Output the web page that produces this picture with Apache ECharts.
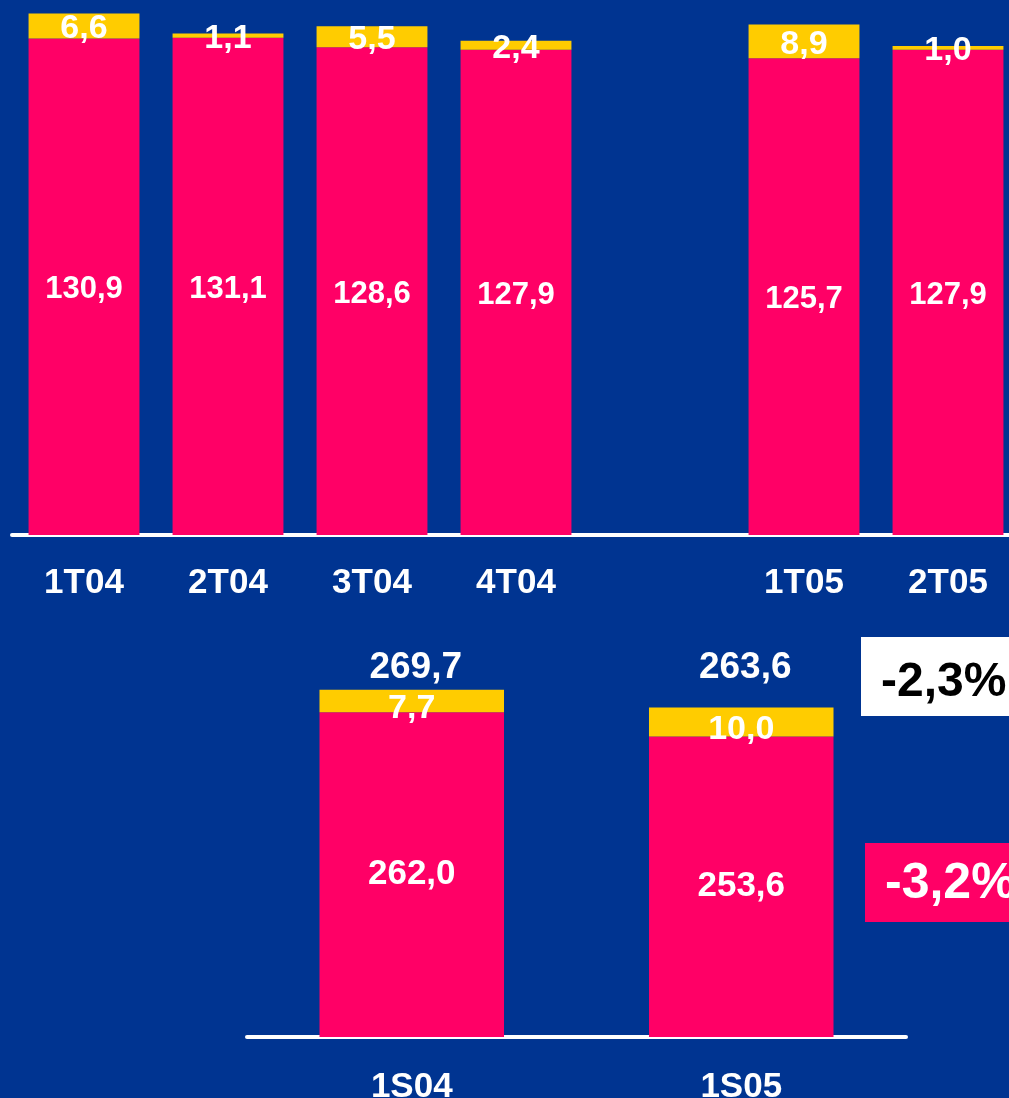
<!DOCTYPE html>
<html>
<head>
<meta charset="utf-8">
<script src="https://cdn.jsdelivr.net/npm/echarts@6/dist/echarts.min.js"></script>
<style>
  html, body { margin: 0; padding: 0; background: #003491; }
  #chart { width: 1009px; height: 1098px; }
</style>
</head>
<body>
<div id="chart"></div>
<script>
// quarterly values (empty slot between 4T04 and 1T05)
const quarters = ['1T04', '2T04', '3T04', '4T04', '', '1T05', '2T05'];
const quarterBase = [130.9, 131.1, 128.6, 127.9, null, 125.7, 127.9];
const quarterExtra = [6.6, 1.1, 5.5, 2.4, null, 8.9, 1.0];

// half-year values
const halves = ['1S04', '1S05'];
const halfBase = [262.0, 253.6];
const halfExtra = [7.7, 10.0];
const halfTotal = [269.7, 263.6];

// change 1S05 vs 1S04
const totalChange = -2.3;
const baseChange = -3.2;

const PINK = '#ff0066';
const YELLOW = '#ffcc00';
const BG = '#003491';
const FONT = '"Liberation Sans", Arial, sans-serif';

function fmt(v) {
  return v.toFixed(1).replace('.', ',');
}

function pct(v) {
  return fmt(v) + '%';
}

const labelStyle = {
  show: true,
  color: '#fff',
  fontWeight: 'bold',
  fontFamily: FONT,
  formatter: (p) => fmt(p.value)
};

const chart = echarts.init(document.getElementById('chart'));

chart.setOption({
  backgroundColor: BG,
  animation: false,
  grid: [
    { left: 12, top: 2, width: 1008, height: 533, outerBoundsMode: 'none' },
    { left: 247, top: 660, width: 659, height: 377, outerBoundsMode: 'none' }
  ],
  xAxis: [
    {
      gridIndex: 0,
      type: 'category',
      data: quarters,
      axisLine: { lineStyle: { color: '#fff', width: 4, cap: 'round' } },
      axisTick: { show: false },
      axisLabel: { color: '#fff', fontSize: 35, fontWeight: 'bold', fontFamily: FONT, margin: 31 }
    },
    {
      gridIndex: 1,
      type: 'category',
      data: halves,
      axisLine: { lineStyle: { color: '#fff', width: 4, cap: 'round' } },
      axisTick: { show: false },
      axisLabel: { color: '#fff', fontSize: 35, fontWeight: 'bold', fontFamily: FONT, margin: 33 }
    }
  ],
  yAxis: [
    { gridIndex: 0, type: 'value', min: 0, max: 140.5, show: false, splitLine: { show: false } },
    { gridIndex: 1, type: 'value', min: 150, max: 280, show: false, splitLine: { show: false } }
  ],
  series: [
    {
      type: 'bar',
      xAxisIndex: 0,
      yAxisIndex: 0,
      stack: 'q',
      data: quarterBase,
      barWidth: '77%',
      itemStyle: { color: PINK },
      label: { ...labelStyle, position: 'inside', fontSize: 31, offset: [0, 3] }
    },
    {
      type: 'bar',
      xAxisIndex: 0,
      yAxisIndex: 0,
      stack: 'q',
      data: quarterExtra,
      barWidth: '77%',
      itemStyle: { color: YELLOW },
      label: { ...labelStyle, position: 'inside', fontSize: 34, offset: [0, 3] }
    },
    {
      type: 'bar',
      xAxisIndex: 1,
      yAxisIndex: 1,
      stack: 's',
      data: halfBase,
      barWidth: '56%',
      itemStyle: { color: PINK },
      label: { ...labelStyle, position: 'inside', fontSize: 35 }
    },
    {
      type: 'bar',
      xAxisIndex: 1,
      yAxisIndex: 1,
      stack: 's',
      data: halfExtra,
      barWidth: '56%',
      itemStyle: { color: YELLOW },
      label: { ...labelStyle, position: 'inside', fontSize: 34, offset: [0, 8] }
    }
  ]
});

// totals above the half-year bars and the change boxes
const totalTexts = halves.map((h, i) => {
  const x = chart.convertToPixel({ xAxisIndex: 1, yAxisIndex: 1 }, [h, 150])[0];
  return {
    type: 'text',
    x: x + 4,
    y: 668,
    style: {
      text: fmt(halfTotal[i]),
      fill: '#fff',
      font: 'bold 37px ' + FONT,
      textAlign: 'center',
      textVerticalAlign: 'middle'
    }
  };
});

chart.setOption({
  graphic: [
    ...totalTexts,
    { type: 'rect', shape: { x: 861, y: 637, width: 160, height: 79 }, style: { fill: '#fff' } },
    {
      type: 'text', x: 881, y: 683,
      style: { text: pct(totalChange), fill: '#000', font: 'bold 48px ' + FONT, textVerticalAlign: 'middle' }
    },
    { type: 'rect', shape: { x: 865, y: 843, width: 160, height: 79 }, style: { fill: PINK } },
    {
      type: 'text', x: 885, y: 884,
      style: { text: pct(baseChange), fill: '#fff', font: 'bold 50px ' + FONT, textVerticalAlign: 'middle' }
    }
  ]
});
</script>
</body>
</html>
